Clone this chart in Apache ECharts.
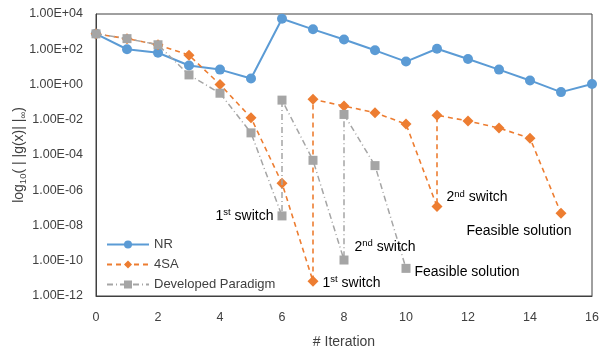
<!DOCTYPE html>
<html><head><meta charset="utf-8">
<script src="https://cdn.jsdelivr.net/npm/echarts@6/dist/echarts.min.js"></script>
<style>html,body{margin:0;padding:0;background:#fff}#c{width:600px;height:352px}</style>
</head><body><div id="c"></div>
<script>
// Data (values of ||g(x)||_inf, plotted on log10 scale)
const nrIter = [0,1,2,3,4,5,6,7,8,9,10,11,12,13,14,15,16];
const nrVals = [750,100,63,12,7,2.2,5400,1350,360,87,20,107,28,7,1.7,0.37,1.07];
const saIter = [0,1,2,3,4,5,6,7,7,8,9,10,11,11,12,13,14,15];
const saVals = [750,400,180,46,1.0,0.013,2.5e-6,6.8e-12,0.145,0.06,0.025,0.0057,1.2e-7,0.018,0.0085,0.0034,0.0009,4.9e-8];
const dpIter = [0,1,2,3,4,5,6,6,7,8,8,9,10];
const dpVals = [750,400,180,3.5,0.32,0.0018,3.5e-8,0.13,5e-5,1.1e-10,0.02,2.5e-5,3.7e-11];
const xTicks = [0,2,4,6,8,10,12,14,16];
const yExpMin = -12, yExpMax = 4;
const seriesNames = ['NR','4SA','Developed Paradigm'];
// annotations: [series, point index, text parts]
const saNotes = {7:['1','st',' switch'], 12:['2','nd',' switch'], 17:['Feasible solution']};
const dpNotes = {6:['1','st',' switch'], 9:['2','nd',' switch'], 12:['Feasible solution']};

const FONT = '"Liberation Sans", Arial, sans-serif';
const rich = {
  a:{fontSize:14,color:'#000',fontFamily:FONT,lineHeight:17},
  s:{fontSize:9.5,color:'#000',fontFamily:FONT,verticalAlign:'top',lineHeight:17,padding:[0,0,6,0]}
};
function fmtNote(p){ return p.length===1 ? '{a|'+p[0]+'}' : '{a|'+p[0]+'}{s|'+p[1]+'}{a|'+p[2]+'}'; }
const notePos = {
  'sa7':{position:'right',offset:[0,2]},
  'sa12':{position:'right',offset:[0,-9]},
  'sa17':{position:'bottom',offset:[-42,0]},
  'dp6':{position:'left',offset:[0,0]},
  'dp9':{position:'right',offset:[2,-13]},
  'dp12':{position:'right',offset:[0,4]}
};
function build(iter, vals, notes, key){
  return iter.map((x,i)=>{
    const item = {value:[x, Math.log10(vals[i])]};
    if(notes && notes[i]){
      const np = notePos[key+i];
      item.label = {show:true, position:np.position, offset:np.offset, formatter:fmtNote(notes[i]), rich:rich, distance:4};
    }
    return item;
  });
}
function expLabel(v){
  const e = Math.round(v);
  const s = e<0?'-':'+';
  const a = Math.abs(e);
  return '1.00E'+s+(a<10?'0':'')+a;
}
const chart = echarts.init(document.getElementById('c'));
chart.setOption({
  animation:false,
  backgroundColor:'#fff',
  grid:{left:96,right:8,top:14,bottom:56,show:true,borderColor:'#404040',borderWidth:1,containLabel:false,outerBoundsMode:'none'},
  legend:{
    orient:'vertical', left:101, top:233, itemWidth:42, itemHeight:10, itemGap:7,
    textStyle:{fontSize:13,color:'#404040',fontFamily:FONT},
    data:seriesNames
  },
  xAxis:{
    type:'value', min:0, max:16, interval:2,
    name:'# Iteration', nameLocation:'middle', nameGap:39,
    nameTextStyle:{fontSize:14,color:'#404040',fontFamily:FONT},
    axisLine:{show:true,onZero:false,lineStyle:{color:'#404040'}},
    axisTick:{show:false}, splitLine:{show:false},
    axisLabel:{margin:15,fontSize:12.5,color:'#404040',fontFamily:FONT}
  },
  yAxis:{
    type:'value', min:yExpMin, max:yExpMax, interval:2,
    name:'{a|log}{b|10}{a|( | |g(x)| |}{b|∞}{a|)}', nameLocation:'middle', nameGap:68,
    nameMoveOverlap:false,
    nameTextStyle:{rich:{a:{fontSize:14,color:'#404040',fontFamily:FONT,lineHeight:18},b:{fontSize:9.5,color:'#404040',fontFamily:FONT,verticalAlign:'bottom',lineHeight:18}}},
    axisLine:{show:true,onZero:false,lineStyle:{color:'#404040'}},
    axisTick:{show:false}, splitLine:{show:false},
    axisLabel:{margin:13,fontSize:12.5,color:'#404040',fontFamily:FONT,formatter:expLabel}
  },
  series:[
    {name:seriesNames[0], type:'line', data:build(nrIter,nrVals,null,'nr'),
     symbol:'circle', symbolSize:10, itemStyle:{color:'#5B9BD5'},
     lineStyle:{color:'#5B9BD5',width:2}, z:2},
    {name:seriesNames[1], type:'line', data:build(saIter,saVals,saNotes,'sa'),
     symbol:'diamond', symbolSize:11, itemStyle:{color:'#ED7D31'},
     lineStyle:{color:'#ED7D31',width:1.6,type:[5,4]}, z:3},
    {name:seriesNames[2], type:'line', data:build(dpIter,dpVals,dpNotes,'dp'),
     symbol:'rect', symbolSize:9, itemStyle:{color:'#A5A5A5'},
     lineStyle:{color:'#A5A5A5',width:1.5,type:[6,3,1,3]}, z:4}
  ]
});
</script></body></html>
